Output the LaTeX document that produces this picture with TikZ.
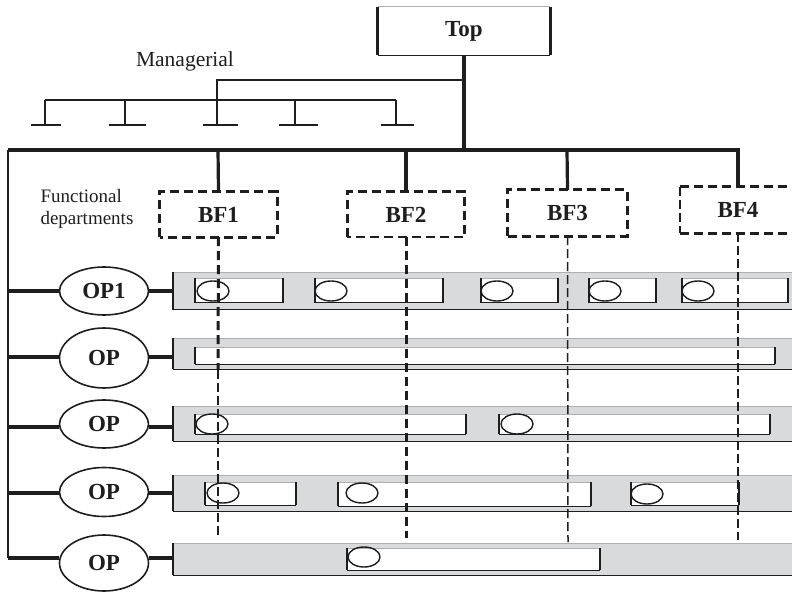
\documentclass[tikz,border=0pt]{standalone}
\usepackage{fontspec}
\setmainfont{Liberation Serif}
\usetikzlibrary{shapes.geometric}

\definecolor{barfill}{HTML}{D9DADB}
\definecolor{edgegray}{HTML}{AFAFAF}
\definecolor{ink}{HTML}{1E1E1E}

\tikzset{
  heavy/.style={draw=ink, line width=3.6pt},
  boldlabel/.style={font=\fontsize{23}{26}\selectfont\bfseries, text=ink},
  bfbox/.style={minimum width=117pt, minimum height=45pt, inner sep=0pt, boldlabel},
  thickdash/.style={draw=ink, line width=3pt, dash pattern=on 9pt off 5pt},
  thindash/.style={draw=ink, line width=1.5pt, dash pattern=on 9pt off 4pt},
  opnode/.style={ellipse, draw=ink, line width=1.6pt, minimum width=89pt,
    inner sep=0pt, boldlabel, fill=white},
  bubble/.style={ellipse, draw=ink, line width=1.4pt, minimum width=32pt,
    minimum height=20pt, inner sep=0pt},
  barnode/.style={anchor=north west, fill=barfill, minimum width=619pt,
    inner sep=0pt, outer sep=0pt},
}

% white slot inside a bar: x-left, x-right, y-top, y-bottom
\newcommand\slotbox[4]{%
  \fill[white] (#1,#3) rectangle (#2,#4);
  \draw[edgegray, line width=0.8pt] (#1,#3) -- (#2,#3);
  \draw[ink, line width=1pt] (#1,#4) -- (#2,#4);
  \draw[ink, line width=2.4pt] (#1,#3) -- (#1,#4) (#2,#3) -- (#2,#4);
}

\begin{document}
\begin{tikzpicture}[x=1pt, y=-1pt]
\clip (0,0) rectangle (792,593);

% ---------- top of the hierarchy ----------
\node[minimum width=172pt, minimum height=48pt, inner sep=0pt, boldlabel]
  (top) at (464,31) {Top};
\draw[edgegray, line width=0.8pt] (top.north west) -- (top.north east);
\draw[ink, line width=1pt] (top.south west) -- (top.south east);
\draw[ink, line width=3pt] (top.north west) -- (top.south west)
                           (top.north east) -- (top.south east);

\coordinate (hub) at (464,150);
\coordinate (mgr) at (464,80);
\draw[heavy] (top.south) -- (hub);

% ---------- managerial layer ----------
\node[font=\fontsize{21.5}{24}\selectfont, text=ink] (mlabel) at (185,61) {Managerial};
\coordinate (mc) at (217,80);
\coordinate (mrowL) at (45,100);
\coordinate (mrowR) at (396,100);
\draw[ink, line width=1.8pt] (mgr) -- (mc) -- (217,100);
\draw[ink, line width=1.8pt] (mrowL) -- (mrowR);
\foreach \x/\a/\b [count=\i] in {45/31/61, 125/109/146, 217/203/238, 295/279/318, 396/381/414}{
  \coordinate (m\i) at (\x,125);
  \draw[ink, line width=1.8pt] (\x,100) -- (m\i);
  \draw[ink, line width=2.6pt] (\a,125) -- (\b,125);
}

% ---------- main spine ----------
\coordinate (spL) at (8,150);
\coordinate (spR) at (740,150);
\coordinate (spB) at (8,558);
\draw[heavy] (spL) -- (spR);
\draw[ink, line width=2pt] (spL) -- (spB);

% ---------- functional departments ----------
\node[font=\fontsize{19}{22}\selectfont, text=ink, align=left, anchor=west]
  (flabel) at (37,209) {Functional\\departments};

\node[bfbox] (bf1) at (218.5,214.5) {BF1};
\node[bfbox] (bf2) at (406,214.5) {\raisebox{-3pt}{BF2}};
\node[bfbox, minimum width=119pt, minimum height=46pt] (bf3) at (567.5,213) {BF3};
\node[bfbox, minimum width=116pt, minimum height=46pt] (bf4) at (738,210) {BF4};

\draw[thickdash] (bf1.south west) rectangle (bf1.north east);
\draw[draw=ink, line width=2.6pt, dash pattern=on 9pt off 5pt]
  (bf2.south west) rectangle (bf2.north east);
\draw[thickdash] (bf3.south west) rectangle (bf3.north east);
\draw[thickdash] (bf4.north west) -- (bf4.north east)
                 (bf4.south west) -- (bf4.south east);
\draw[thindash] (bf4.north west) -- (bf4.south west);

\foreach \b/\x in {bf1/218, bf2/406, bf3/567, bf4/738}
  \draw[ink, line width=3.2pt] (\x,150) -- (\b.north);

% ---------- operational rows ----------
% bars
\node[barnode, minimum height=38pt] (bar1) at (173,272) {};
\node[barnode, minimum height=31pt] (bar2) at (173,338) {};
\node[barnode, minimum height=35pt] (bar3) at (173,406) {};
\node[barnode, minimum height=36pt] (bar4) at (173,475) {};
\node[barnode, minimum height=32pt] (bar5) at (173,543) {};
\foreach \i in {1,...,5}{
  \draw[edgegray, line width=0.9pt] (bar\i.north west) -- (bar\i.north east);
  \draw[ink, line width=1pt] (bar\i.south west) -- (bar\i.south east);
  \draw[ink, line width=2.6pt] (bar\i.north west) -- (bar\i.south west);
}

% slots in the bars
\slotbox{195}{283}{278}{303}
\slotbox{315}{443}{278}{303}
\slotbox{481}{558}{278}{303}
\slotbox{589}{656}{278}{303}
\slotbox{682}{788}{278}{303}
\slotbox{195}{775}{347}{364}
\slotbox{195}{466}{414}{434}
\slotbox{499}{770}{414}{434}
\slotbox{205}{296}{482}{505}
\slotbox{338}{591}{482}{506}
\slotbox{631}{739}{482}{505}
\slotbox{347}{600}{548}{570}

% operation nodes
\node[opnode, minimum height=48pt] (op1) at (104,291) {OP1};
\node[opnode, minimum height=60pt] (op2) at (104,358) {OP};
\node[opnode, minimum height=48pt] (op3) at (104,424) {OP};
\node[opnode, minimum height=49pt] (op4) at (104,492) {OP};
\node[opnode, minimum height=56pt] (op5) at (104,563) {OP};

\foreach \i/\y in {1/291, 2/357, 3/427, 4/493, 5/558}{
  \coordinate (s\i) at (8,\y);
  \draw[ink, line width=3.6pt] (s\i) -- (s\i -| op\i.west);
  \draw[ink, line width=3.6pt] (s\i -| op\i.east) -- (s\i -| bar\i.west);
}

% ---------- dashed links from the departments ----------
\coordinate (d1a) at (218,370);
\coordinate (d1b) at (218,538);
\coordinate (d2) at (406,538);
\coordinate (d3) at (568,542);
\coordinate (d4) at (738,540);
\draw[thickdash] (bf1.south) -- (d1a);
\draw[thindash] (d1a) -- (d1b);
\draw[thickdash] (bf2.south) -- (d2);
\draw[thindash] (bf3.south) -- (d3);
\draw[thindash] (bf4.south) -- (d4);

% ---------- activity bubbles ----------
\foreach \x/\y [count=\k] in {213/291, 331/291, 497/291, 605/291, 698/291,
                             212/424, 517/424,
                             223/493, 362/493, 647/494,
                             364/557}
  \node[bubble] (c\k) at (\x,\y) {};

\end{tikzpicture}
\end{document}
